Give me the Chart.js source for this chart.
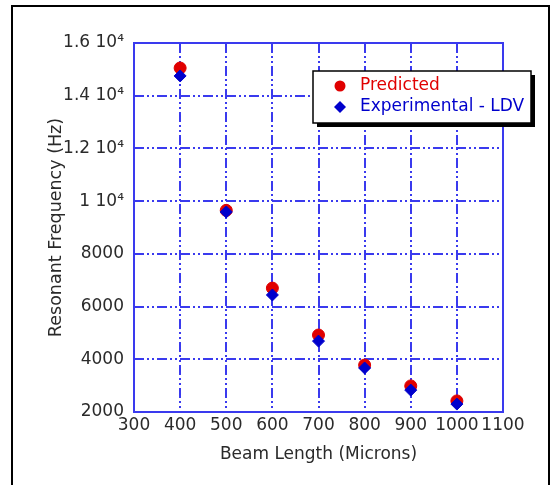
<!DOCTYPE html>
<html>
<head>
<meta charset="utf-8">
<script src="https://cdn.jsdelivr.net/npm/chart.js@4"></script>
<style>
  body { margin: 0; background: #fff; }
  #wrap { width: 553px; height: 485px; }
</style>
</head>
<body>
<div id="wrap"><canvas id="chart" width="553" height="485"></canvas></div>
<script>
const beamLengths = [400, 500, 600, 700, 800, 900, 1000];
const predicted = [15050, 9650, 6700, 4920, 3780, 2990, 2420];
const experimental = [14750, 9590, 6440, 4690, 3670, 2830, 2300];
const seriesNames = ["Predicted", "Experimental - LDV"];

const GRID_BLUE = "#3a3aee";
const TEXT = "#2a2a2a";
const FONT = "'DejaVu Sans', Verdana, sans-serif";

function toPoints(xs, ys) {
    return xs.map((x, i) => ({ x: x, y: ys[i] }));
}

const framePlugin = {
    id: "frame",
    beforeDraw(chart) {
        const ctx = chart.ctx;
        ctx.save();
        ctx.fillStyle = "#fff";
        ctx.fillRect(0, 0, chart.width, chart.height);
        ctx.strokeStyle = "#000";
        ctx.lineWidth = 2;
        ctx.strokeRect(12, 6, 537, 490);
        ctx.restore();
    },
    beforeDatasetsDraw(chart) {
        const a = chart.chartArea;
        const ctx = chart.ctx;
        ctx.save();
        ctx.strokeStyle = GRID_BLUE;
        ctx.lineWidth = 2;
        ctx.strokeRect(a.left, a.top, a.right - a.left, a.bottom - a.top);
        ctx.restore();
    },
    afterDraw(chart) {
        // legend box with drop shadow
        const ctx = chart.ctx;
        const bx = 313, by = 71, bw = 218, bh = 52;
        ctx.save();
        ctx.fillStyle = "#000";
        ctx.fillRect(bx + 4, by + 4, bw, bh);
        ctx.fillStyle = "#fff";
        ctx.fillRect(bx, by, bw, bh);
        ctx.strokeStyle = "#000";
        ctx.lineWidth = 1.5;
        ctx.strokeRect(bx, by, bw, bh);

        ctx.font = "17px " + FONT;
        ctx.textBaseline = "middle";
        chart.data.datasets.forEach((ds, i) => {
            const y = by + 15 + i * 21;
            ctx.fillStyle = ds.backgroundColor;
            ctx.beginPath();
            if (ds.pointStyle === "circle") {
                ctx.arc(340, y, 5.5, 0, Math.PI * 2);
            } else {
                ctx.moveTo(340, y - 6);
                ctx.lineTo(346, y);
                ctx.lineTo(340, y + 6);
                ctx.lineTo(334, y);
                ctx.closePath();
            }
            ctx.fill();
            ctx.fillText(ds.label, 360, y);
        });
        ctx.restore();
    }
};

new Chart(document.getElementById("chart"), {
    type: "scatter",
    data: {
        datasets: [
            {
                label: seriesNames[0],
                data: toPoints(beamLengths, predicted),
                backgroundColor: "#e00000",
                borderColor: "#e00000",
                pointStyle: "circle",
                pointRadius: 6,
                order: 1
            },
            {
                label: seriesNames[1],
                data: toPoints(beamLengths, experimental),
                backgroundColor: "#0000cc",
                borderColor: "#0000cc",
                pointStyle: "rectRot",
                pointRadius: 6,
                order: 0
            }
        ]
    },
    options: {
        responsive: false,
        animation: false,
        layout: { padding: { top: 43, right: 50, left: 0, bottom: 0 } },
        plugins: {
            legend: { display: false },
            tooltip: { enabled: false }
        },
        scales: {
            x: {
                type: "linear",
                min: 300,
                max: 1100,
                afterFit(scale) { scale.height = 73; },
                ticks: {
                    stepSize: 100,
                    padding: 3,
                    autoSkip: false,
                    color: TEXT,
                    font: { family: FONT, size: 17 },
                    maxRotation: 0,
                    callback: v => String(v)
                },
                grid: {
                    color: GRID_BLUE,
                    lineWidth: 2,
                    drawTicks: false
                },
                border: { display: false, dash: [10, 3, 2, 3, 2, 3] },
                title: {
                    display: true,
                    text: "Beam Length (Microns)",
                    color: TEXT,
                    font: { family: FONT, size: 17 },
                    padding: { top: 0, bottom: 20 }
                }
            },
            y: {
                min: 2000,
                max: 16000,
                afterFit(scale) { scale.width = 134; },
                ticks: {
                    stepSize: 2000,
                    padding: 10,
                    color: TEXT,
                    font: { family: FONT, size: 17 },
                    callback: v => v >= 10000 ? (v / 10000) + " 10\u2074" : String(v)
                },
                grid: {
                    color: GRID_BLUE,
                    lineWidth: 2,
                    drawTicks: false
                },
                border: { display: false, dash: [10, 3, 2, 3, 2, 3] },
                title: {
                    display: true,
                    text: "Resonant Frequency (Hz)",
                    color: TEXT,
                    font: { family: FONT, size: 17.5 },
                    padding: { top: 46, bottom: 0 }
                }
            }
        }
    },
    plugins: [framePlugin]
});
</script>
</body>
</html>
